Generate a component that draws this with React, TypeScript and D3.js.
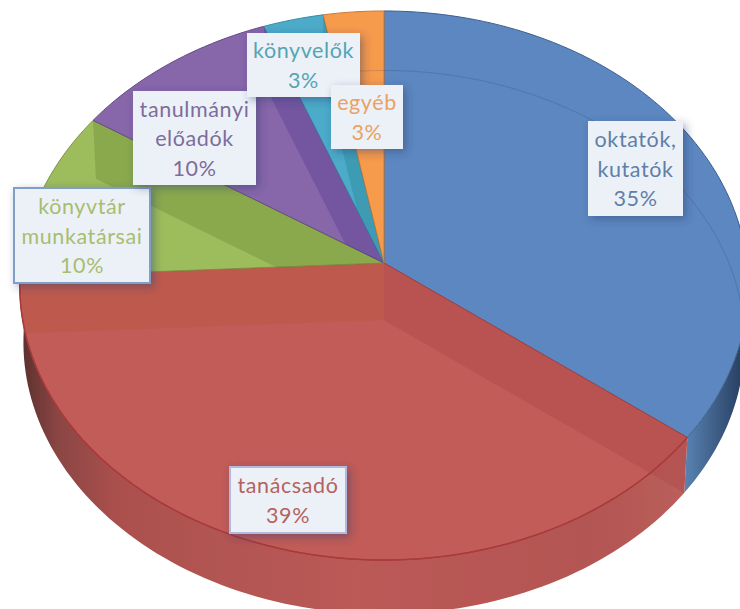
import React from 'react';
import * as d3 from 'd3';

// values (percent), the printed labels are rounded
const categories = ['oktatók, kutatók', 'tanácsadó', 'könyvtár munkatársai', 'tanulmányi előadók', 'könyvelők', 'egyéb'];
const values = [35.4, 38.8, 10, 10, 2.9, 2.9];

const fills = ['#5b87c0', '#c15b59', '#9dbc5c', '#8766aa', '#4cabc8', '#f69a4c'];
const edges = ['#3f5f8c', '#a83f3f', '#7d9648', '#634a85', '#3c8ba3', '#c97a3a'];
const wallFills = ['#a83f3f', '#b05a20', '#5f7f2a', '#44308c', '#1f7c88', '#c97a3a'];
const textColors = ['#5f7fa8', '#b5615f', '#a7bd70', '#7d6c9c', '#54a4b6', '#e8a264'];

const width = 740;
const height = 609;
const cx = 384;
const cy = 263;
const rx = 363;
const ry = 272.7;
const persp = 0.082;
const depth = 57;
const bottomScale = 0.99;

// perspective projection of a rim point, level 0 = top plane, level 1 = bottom plane
function project(angle: number, r: number, level: number): [number, number] {
  const s = Math.sin(angle) * r;
  const t = Math.cos(angle) * r;
  const w = 1 + persp * t;
  const k = level ? bottomScale : 1;
  return [cx + (rx * s * k) / w, cy + level * depth - (ry * t * k) / w];
}

const line = d3.line();

function rim(a0: number, a1: number, level: number): [number, number][] {
  const n = Math.max(2, Math.ceil(Math.abs(a1 - a0) * 40));
  return d3.range(n + 1).map((i) => project(a0 + ((a1 - a0) * i) / n, 1, level));
}

const arcs = d3.pie<number>().sort(null).value((d) => d)(values);

// slices on the near side that show an outer wall: blue from its right end, red whole
const outerWalls = [
  { a0: Math.PI * 0.45, a1: arcs[0].endAngle, fill: 'url(#blueWall)' },
  { a0: arcs[1].startAngle, a1: arcs[1].endAngle + 0.06, fill: 'url(#redWall)' },
];

const labels = [
  { i: 0, x: 588, y: 121, w: 95, h: 95, lines: ['oktatók,', 'kutatók', '35%'], border: 'none' },
  { i: 1, x: 230, y: 467, w: 116, h: 66, lines: ['tanácsadó', '39%'], border: '#b4b8dc' },
  { i: 2, x: 14, y: 188, w: 136, h: 95, lines: ['könyvtár', 'munkatársai', '10%'], border: '#7f9fc8' },
  { i: 3, x: 133, y: 91, w: 123, h: 94, lines: ['tanulmányi', 'előadók', '10%'], border: 'none' },
  { i: 4, x: 247, y: 33, w: 113, h: 64, lines: ['könyvelők', '3%'], border: 'none' },
  { i: 5, x: 331, y: 85, w: 72, h: 64, lines: ['egyéb', '3%'], border: 'none' },
];

export default function App() {
  const center = project(0, 0, 0);
  const centerB = project(0, 0, 1);
  const topPath = (i: number) => line([center, ...rim(arcs[i].startAngle, arcs[i].endAngle, 0)]) + 'Z';
  const wallPath = (a: number) => line([center, project(a, 1, 0), project(a, 1, 1), centerB]) + 'Z';
  return (
    <svg width={width} height={height} style={{ position: 'absolute', left: 0, top: 0, background: '#fff' }}>
      <defs>
        <linearGradient id="redWall" gradientUnits="userSpaceOnUse" x1="24" x2="690" y1="0" y2="0">
          <stop offset="0" stopColor="#5f3230" />
          <stop offset="0.05" stopColor="#8a4543" />
          <stop offset="0.14" stopColor="#ab504e" />
          <stop offset="0.5" stopColor="#bb5a57" />
          <stop offset="0.85" stopColor="#b35552" />
          <stop offset="1" stopColor="#bb5f5c" />
        </linearGradient>
        <linearGradient id="blueWall" gradientUnits="userSpaceOnUse" x1="684" x2="738" y1="0" y2="0">
          <stop offset="0" stopColor="#5a84b4" />
          <stop offset="1" stopColor="#2b4468" />
        </linearGradient>
        <filter id="boxShadow" x="-20%" y="-20%" width="150%" height="150%">
          <feDropShadow dx="3" dy="3" stdDeviation="4" floodColor="#2a3a6a" floodOpacity="0.45" />
        </filter>
        <filter id="soft" x="-5%" y="-5%" width="110%" height="110%">
          <feGaussianBlur stdDeviation="0.5" />
        </filter>
        {arcs.map((a, i) => (
          <clipPath id={'slice' + i} key={i}>
            <path d={topPath(i)} />
          </clipPath>
        ))}
      </defs>

      <g filter="url(#soft)">
        {outerWalls.map((w, i) => (
          <path
            key={i}
            d={line([...rim(w.a0, w.a1, 0), ...rim(w.a1, w.a0, 1)]) + 'Z'}
            fill={w.fill}
          />
        ))}

        {arcs.map((a, i) => (
          <path key={i} d={topPath(i)} fill={fills[i]} stroke={edges[i]} strokeWidth={1} />
        ))}

        {/* bottom rim seen through the far slices */}
        <path
          d={line(rim(arcs[4].startAngle, Math.PI * 2, 1)) ?? ''}
          fill="none"
          stroke="#3a3a5a"
          strokeOpacity={0.2}
        />
        <path
          d={line(rim(0, arcs[0].endAngle - 0.55, 1)) ?? ''}
          fill="none"
          stroke="#3f5f8c"
          strokeOpacity={0.4}
        />

        {/* radial walls seen through the top, the far ones stay inside their slice */}
        <path d={wallPath(arcs[0].endAngle)} fill={wallFills[0]} fillOpacity={0.3} />
        <path d={wallPath(arcs[1].endAngle)} fill={wallFills[1]} fillOpacity={0.2} />
        {[2, 3, 4].map((i) => (
          <path
            key={i}
            d={wallPath(arcs[i].endAngle)}
            fill={wallFills[i]}
            fillOpacity={0.3}
            clipPath={`url(#slice${i})`}
          />
        ))}

        {/* rim of the red top face */}
        <path
          d={line(rim(arcs[1].startAngle, arcs[1].endAngle + 0.06, 0)) ?? ''}
          fill="none"
          stroke="#a83a3a"
          strokeWidth={1.5}
        />
      </g>

      {labels.map((l, k) => (
        <g key={k}>
          <rect
            x={l.x}
            y={l.y}
            width={l.w}
            height={l.h}
            fill="#ecf1f7"
            stroke={l.border}
            strokeWidth={2}
            filter="url(#boxShadow)"
          />
          {l.lines.map((t, j) => (
            <text
              key={j}
              x={l.x + l.w / 2}
              y={l.y + l.h / 2 + (j - (l.lines.length - 1) / 2) * 29.5 + 8}
              textAnchor="middle"
              fontFamily="Lato, 'Open Sans', sans-serif"
              fontSize={21.5}
              letterSpacing={0.6}
              fill={textColors[l.i]}
            >
              {t}
            </text>
          ))}
        </g>
      ))}
    </svg>
  );
}
